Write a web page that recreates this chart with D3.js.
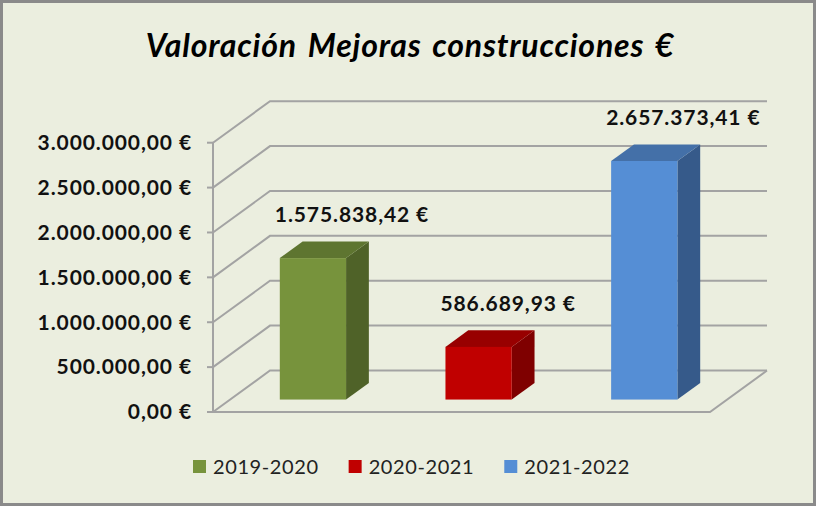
<!DOCTYPE html>
<html>
<head>
<meta charset="utf-8">
<script src="https://cdn.jsdelivr.net/npm/d3@7"></script>
<style>
  html, body { margin: 0; padding: 0; background: #ffffff; }
  svg { display: block; }
</style>
</head>
<body>
<svg id="chart" width="816" height="506"></svg>
<script>
// data
const categories = ['2019-2020', '2020-2021', '2021-2022'];
const values = [1575838.42, 586689.93, 2657373.41];
const colors = ['#77933c', '#c00000', '#558ed5'];
const topColors = ['#5e7530', '#980000', '#4470a8'];
const sideColors = ['#4f6228', '#7f0000', '#365a8a'];
const yTicks = [0, 500000, 1000000, 1500000, 2000000, 2500000, 3000000];
const title = 'Valoración Mejoras construcciones €';

const W = 816, H = 506;
const svg = d3.select('#chart');

const locale = d3.formatLocale({decimal: ',', thousands: '.', grouping: [3], currency: ['', ' €']});
const fmt = locale.format('$,.2f');

// frame
svg.append('rect')
    .attr('x', 1.5).attr('y', 1.5)
    .attr('width', W - 3).attr('height', H - 3)
    .attr('fill', '#ebeedf')
    .attr('stroke', '#8a8a8a')
    .attr('stroke-width', 3);

// scales
const x = d3.scaleBand()
    .domain(categories)
    .range([213, 710])
    .paddingInner(0.6)
    .paddingOuter(0.3);

const y = d3.scaleLinear()
    .domain([0, 3000000])
    .range([412, 142.7]);

// depth of the floor (oblique projection)
const depth = {dx: 57, dy: -41.5};
const f0 = 0.3, f1 = 0.7; // bar depth span
const gridColor = '#a3a3a3';

// walls: grid lines on side wall and back wall
const grid = svg.append('g').attr('fill', 'none').attr('stroke', gridColor).attr('stroke-width', 2);
yTicks.forEach(t => {
    const yy = y(t);
    grid.append('path')
        .attr('d', `M${x.range()[0]},${yy} L${x.range()[0] + depth.dx},${yy + depth.dy} L${x.range()[1] + depth.dx},${yy + depth.dy}`);
});

// floor outline
const y0 = y(0);
grid.append('path')
    .attr('d', `M${x.range()[0]},${y0} L${x.range()[1]},${y0} L${x.range()[1] + depth.dx},${y0 + depth.dy}`);

// front axis line and tick marks
grid.append('line')
    .attr('x1', x.range()[0]).attr('x2', x.range()[0])
    .attr('y1', y(3000000)).attr('y2', y0);
yTicks.forEach(t => {
    grid.append('line')
        .attr('x1', x.range()[0] - 6).attr('x2', x.range()[0])
        .attr('y1', y(t)).attr('y2', y(t));
});

// tick labels
svg.append('g')
    .selectAll('text')
    .data(yTicks)
    .enter()
    .append('text')
        .attr('x', 192)
        .attr('y', d => y(d))
        .attr('dy', '0.35em')
        .attr('text-anchor', 'end')
        .attr('font-family', 'Lato, sans-serif')
        .attr('font-weight', 'bold')
        .attr('font-size', 21)
        .attr('letter-spacing', 0.9)
        .attr('fill', '#111')
        .text(d => fmt(d));

// bars
const bars = svg.append('g');
categories.forEach((c, i) => {
    const v = values[i];
    const fx = x(c) + depth.dx * f0;
    const fyBase = y0 + depth.dy * f0;
    const fyTop = y(v) + depth.dy * f0;
    const bw = x.bandwidth();
    const ddx = depth.dx * (f1 - f0), ddy = depth.dy * (f1 - f0);

    // side
    bars.append('path')
        .attr('d', `M${fx + bw},${fyTop} L${fx + bw + ddx},${fyTop + ddy} L${fx + bw + ddx},${fyBase + ddy} L${fx + bw},${fyBase} Z`)
        .attr('fill', sideColors[i]);
    // top
    bars.append('path')
        .attr('d', `M${fx},${fyTop} L${fx + ddx},${fyTop + ddy} L${fx + bw + ddx},${fyTop + ddy} L${fx + bw},${fyTop} Z`)
        .attr('fill', topColors[i]);
    // front
    bars.append('rect')
        .attr('x', fx).attr('y', fyTop)
        .attr('width', bw).attr('height', fyBase - fyTop)
        .attr('fill', colors[i]);

    // value label
    bars.append('text')
        .attr('x', fx - 5)
        .attr('y', fyTop - 36)
        .attr('font-family', 'Lato, sans-serif')
        .attr('font-weight', 'bold')
        .attr('font-size', 21)
        .attr('letter-spacing', 0.9)
        .attr('fill', '#111')
        .text(fmt(v));
});

// title
svg.append('text')
    .attr('x', 410)
    .attr('y', 57)
    .attr('text-anchor', 'middle')
    .attr('font-family', 'Lato, sans-serif')
    .attr('font-weight', 'bold')
    .attr('font-style', 'italic')
    .attr('font-size', 32)
    .attr('letter-spacing', 0.8)
    .attr('word-spacing', 3)
    .attr('fill', '#000')
    .text(title);

// legend
const legend = svg.append('g');
let lx = 193;
categories.forEach((c, i) => {
    legend.append('rect')
        .attr('x', lx).attr('y', 460)
        .attr('width', 13).attr('height', 13)
        .attr('fill', colors[i]);
    const t = legend.append('text')
        .attr('x', lx + 20)
        .attr('y', 474)
        .attr('font-family', 'Lato, sans-serif')
        .attr('font-size', 20)
        .attr('letter-spacing', 0.6)
        .attr('fill', '#222')
        .text(c);
    lx += 20 + t.node().getComputedTextLength() + 30;
});
</script>
</body>
</html>
